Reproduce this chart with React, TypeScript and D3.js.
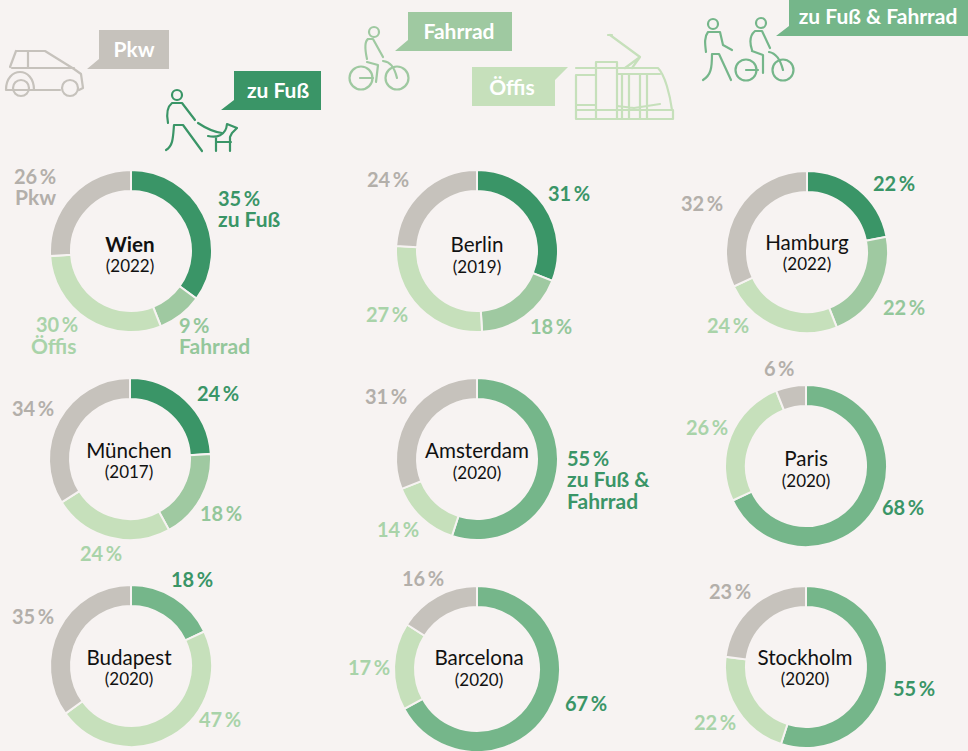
import React from "react";
import * as d3 from "d3";

const categories = ["zu Fuß", "zu Fuß & Fahrrad", "Fahrrad", "Öffis", "Pkw"];
const cities = ["Wien", "Berlin", "Hamburg", "München", "Amsterdam", "Paris", "Budapest", "Barcelona", "Stockholm"];
const years = ["2022", "2019", "2022", "2017", "2020", "2020", "2020", "2020", "2020"];
const zuFuss = [35, 31, 22, 24, 0, 0, 0, 0, 0];
const zuFussFahrrad = [0, 0, 0, 0, 55, 68, 18, 67, 55];
const fahrrad = [9, 18, 22, 18, 0, 0, 0, 0, 0];
const oeffis = [30, 27, 24, 24, 14, 26, 47, 17, 22];
const pkw = [26, 24, 32, 34, 31, 6, 35, 16, 23];

const BG = "#f7f3f2";
const COLORS: Record<string, string> = {
  "zu Fuß": "#3a9567",
  Fahrrad: "#9fc9a1",
  "Öffis": "#c6e0bb",
  Pkw: "#c6c2bc",
  "zu Fuß & Fahrrad": "#75b68a",
};
const TEXT_COLORS: Record<string, string> = {
  "zu Fuß": "#3a9567",
  Fahrrad: "#94c79b",
  "Öffis": "#a9d3a9",
  Pkw: "#b3afaa",
  "zu Fuß & Fahrrad": "#3a9567",
};
const FONT = "Lato, 'Open Sans', sans-serif";

const centers: [number, number][] = [
  [131, 251], [477, 251], [807, 252],
  [130, 459], [477, 459], [806, 466],
  [131, 666], [477, 669], [806, 667],
];
const radii = [81, 81, 81, 81, 81, 81, 81, 83, 81];
const centerTextX = [130, 477, 807, 129, 477, 806, 129, 479, 805];
const centerTextY: [number, number][] = [
  [252, 272], [252, 273], [250, 270],
  [458, 478], [458, 479], [466, 487],
  [665, 685], [665, 686], [665, 685],
];

const seriesByCat: Record<string, number[]> = {
  "zu Fuß": zuFuss,
  "zu Fuß & Fahrrad": zuFussFahrrad,
  Fahrrad: fahrrad,
  "Öffis": oeffis,
  Pkw: pkw,
};

const labelPos: [number, string, number, number][] = [
  [0, "zu Fuß", 218, 206], [0, "Fahrrad", 179, 333], [0, "Öffis", 36, 332], [0, "Pkw", 14, 184],
  [1, "zu Fuß", 548, 201], [1, "Fahrrad", 530, 334], [1, "Öffis", 366, 322], [1, "Pkw", 367, 187],
  [2, "zu Fuß", 873, 191], [2, "Fahrrad", 883, 315], [2, "Öffis", 707, 333], [2, "Pkw", 681, 211],
  [3, "zu Fuß", 197, 401], [3, "Fahrrad", 200, 521], [3, "Öffis", 80, 561], [3, "Pkw", 12, 416],
  [4, "zu Fuß & Fahrrad", 567, 466], [4, "Öffis", 377, 537], [4, "Pkw", 365, 404],
  [5, "zu Fuß & Fahrrad", 882, 515], [5, "Öffis", 686, 435], [5, "Pkw", 764, 376],
  [6, "zu Fuß & Fahrrad", 171, 587], [6, "Öffis", 199, 727], [6, "Pkw", 12, 624],
  [7, "zu Fuß & Fahrrad", 565, 711], [7, "Öffis", 348, 675], [7, "Pkw", 402, 586],
  [8, "zu Fuß & Fahrrad", 893, 696], [8, "Öffis", 694, 730], [8, "Pkw", 709, 599],
];

const extraLabels: [string, number, number, string][] = [
  ["zu Fuß", 218, 227, "zu Fuß"],
  ["Fahrrad", 179, 354, "Fahrrad"],
  ["Öffis", 31, 354, "Öffis"],
  ["Pkw", 15, 205, "Pkw"],
  ["zu Fuß &", 567, 487, "zu Fuß & Fahrrad"],
  ["Fahrrad", 567, 509, "zu Fuß & Fahrrad"],
];

const callouts: [string, string, number, number, number, number, number, number, number][] = [
  ["Pkw", "Pkw", 99, 169, 30, 69, 87, 59, 134],
  ["zu Fuß", "zu Fuß", 234, 321, 71, 110, 221, 100, 278],
  ["Fahrrad", "Fahrrad", 408, 512, 12, 51, 395, 40, 459],
  ["zu Fuß & Fahrrad", "zu Fuß & Fahrrad", 789, 968, 0, 36, 776, 26, 878],
];

function Callout({ c }: { c: (typeof callouts)[number] }) {
  const [t, cat, x0, x1, y0, y1, tx, ty, mid] = c;
  return (
    <g>
      <path d={`M${x0},${y0}H${x1}V${y1}H${tx}L${x0},${ty}Z`} fill={COLORS[cat]} />
      <text x={mid} y={y1 - 12} textAnchor="middle" fill="#fff" fontFamily={FONT} fontWeight={700} fontSize={21}>{t}</text>
    </g>
  );
}

function Icons() {
  const base = { fill: "none", strokeWidth: 2.2, strokeLinecap: "round" as const, strokeLinejoin: "round" as const };
  return (
    <g>
      <g {...base} stroke={COLORS.Pkw}>
        <path d="M16,51H45L74,69L81,74L83,88L79,90M60,90H33M10,67L16,51M28,51V68M12,68H74" />
        <path d="M6,90C6,66 34,66 34,90H6" />
        <circle cx={21} cy={88} r={8} />
        <circle cx={70} cy={88} r={8} />
      </g>
      <g {...base} stroke={COLORS["zu Fuß"]}>
        <circle cx={177} cy={95} r={5} />
        <path d="M168,123C166,113 167,107 172,103H182L195,120" />
        <path d="M166,150C173,146 173,138 174,125H183L202,151" />
        <path d="M198,123C207,129 214,132 222,133" />
        <path d="M208,136C216,138 226,136 227,124L237,128L232,133L230,137V151M216,137V151M216,142H231" />
      </g>
      <g {...base} stroke={COLORS.Fahrrad}>
        <circle cx={374} cy={32} r={5} />
        <circle cx={361} cy={78} r={11.5} />
        <circle cx={397} cy={78} r={11.5} />
        <path d="M367,59C365,50 364,42 368,39H373L383,57" />
        <path d="M367,62L378,65L376,82M360,78H373M383,61C390,62 394,66 397,78" />
      </g>
      <g {...base} stroke={COLORS["Öffis"]}>
        <path d="M576,68H658C665,75 670,95 672,110" />
        <path d="M576,110H673V119H576ZM576,75V119M576,75H596M576,105H596" />
        <path d="M596,62H617V119H596Z" />
        <path d="M622,74H647V119H622ZM617,74H660M629,74V119M640,74V119M617,106L634,108L660,104" />
        <path d="M610,35L640,57L632,68M640,57L625,68M608,35H612" />
      </g>
      <g {...base} stroke={COLORS["zu Fuß & Fahrrad"]}>
        <circle cx={713} cy={24} r={5} />
        <path d="M706,52C705,44 704,37 708,32H720L723,45L732,50" />
        <path d="M703,80C711,75 712,68 712,54H719L731,80" />
        <circle cx={761} cy={23} r={5} />
        <circle cx={746} cy={70} r={10.5} />
        <circle cx={783} cy={70} r={10.5} />
        <path d="M752,50C750,44 749,36 755,31H762L770,48" />
        <path d="M752,51L763,55L763,73M746,70H758M769,52C775,53 780,58 783,70" />
      </g>
    </g>
  );
}

export default function App() {
  const pie = d3.pie<{ k: string; v: number }>().value((d) => d.v).sort(null);
  return (
    <svg width={968} height={751} style={{ position: "absolute", left: 0, top: 0 }} fontFamily={FONT}>
      <rect width={968} height={751} fill={BG} />
      <Icons />
      {callouts.map((c) => <Callout key={c[0]} c={c} />)}
      <path d="M472,67H568L555,80V106H472Z" fill={COLORS["Öffis"]} />
      <text x={512} y={95} textAnchor="middle" fill="#fff" fontWeight={700} fontSize={21}>Öffis</text>
      {cities.map((city, i) => {
        const data = categories.map((k) => ({ k, v: seriesByCat[k][i] })).filter((d) => d.v > 0);
        const r = radii[i];
        const arc = d3.arc<d3.PieArcDatum<{ k: string; v: number }>>().innerRadius(r - 21).outerRadius(r);
        const [cx, cy] = centers[i];
        return (
          <g key={city}>
            <g transform={`translate(${cx},${cy})`}>
              {pie(data).map((a) => (
                <path key={a.data.k} d={arc(a) ?? ""} fill={COLORS[a.data.k]} stroke={BG} strokeWidth={2} />
              ))}
            </g>
            <text x={centerTextX[i]} y={centerTextY[i][0]} textAnchor="middle" fill="#111" fontSize={20.6} fontWeight={i === 0 ? 700 : 400}>{city}</text>
            <text x={centerTextX[i]} y={centerTextY[i][1]} textAnchor="middle" fill="#111" fontSize={17}>({years[i]})</text>
          </g>
        );
      })}
      {labelPos.map(([ci, cat, x, y]) => (
        <text key={`${ci}-${cat}`} x={x} y={y} fill={TEXT_COLORS[cat]} fontWeight={700} fontSize={20}>
          {seriesByCat[cat][ci]}{"\u2009"}%
        </text>
      ))}
      {extraLabels.map(([t, x, y, cat]) => (
        <text key={`${t}-${y}`} x={x} y={y} fill={TEXT_COLORS[cat]} fontWeight={700} fontSize={21}>{t}</text>
      ))}
    </svg>
  );
}
